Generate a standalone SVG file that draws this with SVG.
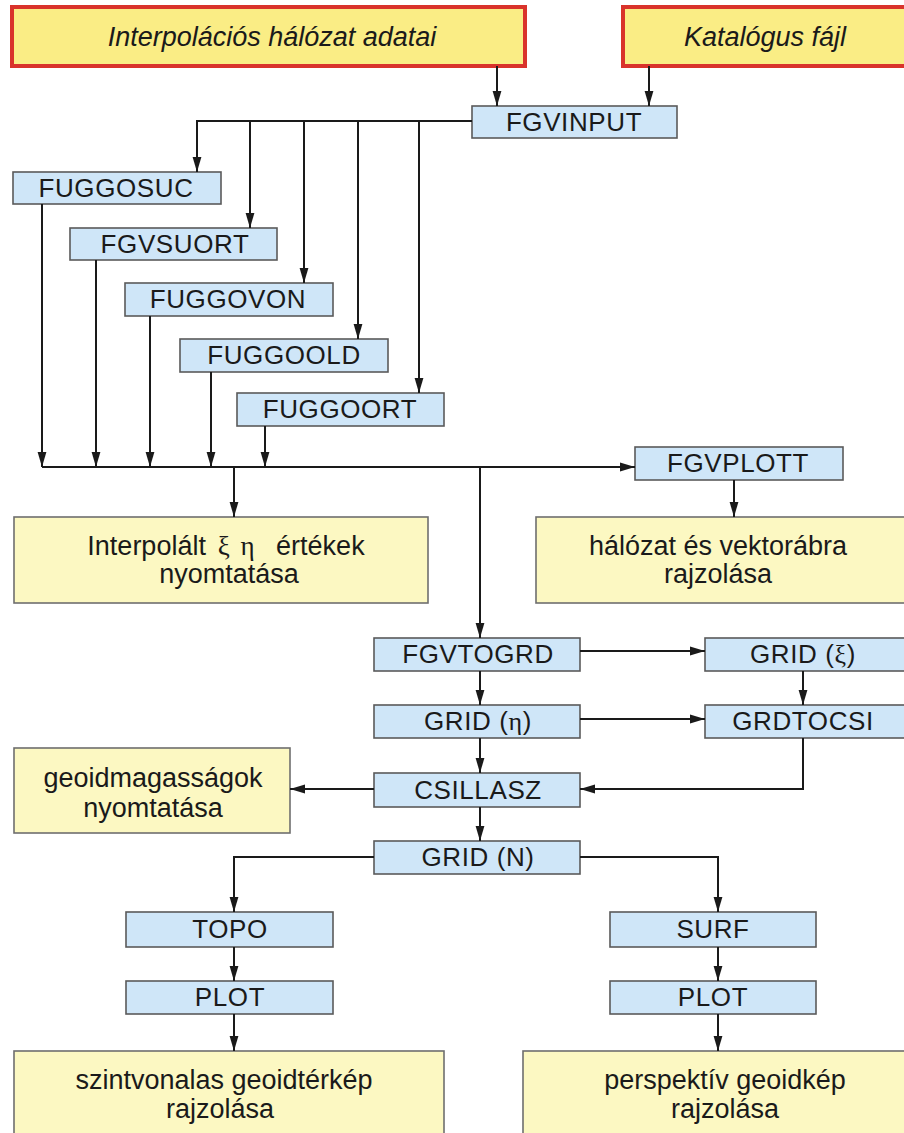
<svg xmlns="http://www.w3.org/2000/svg" width="904" height="1133" viewBox="0 0 904 1133">
<style>
.src{fill:#faed85;stroke:#d9332b;stroke-width:4}
.fn{fill:#cfe6f8;stroke:#5a5a5a;stroke-width:1.6}
.out{fill:#fcf8c2;stroke:#6e6e6e;stroke-width:1.6}
text{font-family:"Liberation Sans",Arial,sans-serif;fill:#1a1a1a;text-anchor:middle}
.it{font-style:italic;font-size:27px}
.lb{font-size:26px;letter-spacing:0.6px}
.tx{font-size:27px}
.gr{font-family:"Liberation Serif","Times New Roman",serif}
.c path{fill:none;stroke:#1a1a1a;stroke-width:2}
</style>
<defs>
<marker id="ah" markerUnits="userSpaceOnUse" markerWidth="16" markerHeight="10" refX="15" refY="5" orient="auto">
<path d="M0,0.6 L15,5 L0,9.4 z" fill="#1a1a1a"/>
</marker>
</defs>
<rect width="904" height="1133" fill="#ffffff"/>
<g id="src-interp"><rect class="src" x="12" y="7" width="513" height="59"/><text class="it" x="272" y="46">Interpolációs hálózat adatai</text></g>
<g id="src-katalog"><rect class="src" x="623" y="7" width="290" height="59"/><text class="it" x="765" y="46">Katalógus fájl</text></g>
<g id="fgvinput"><rect class="fn" x="472" y="106" width="205" height="32"/><text class="lb" x="574" y="131">FGVINPUT</text></g>
<g id="fuggosuc"><rect class="fn" x="13" y="172" width="208" height="32"/><text class="lb" x="116" y="197">FUGGOSUC</text></g>
<g id="fgvsuort"><rect class="fn" x="70" y="228" width="207" height="32"/><text class="lb" x="175" y="253">FGVSUORT</text></g>
<g id="fuggovon"><rect class="fn" x="125" y="283" width="208" height="33"/><text class="lb" x="228" y="308">FUGGOVON</text></g>
<g id="fuggoold"><rect class="fn" x="180" y="339" width="208" height="33"/><text class="lb" x="284" y="364">FUGGOOLD</text></g>
<g id="fuggoort"><rect class="fn" x="237" y="393" width="207" height="33"/><text class="lb" x="340" y="418">FUGGOORT</text></g>
<g id="fgvplott"><rect class="fn" x="635" y="447" width="208" height="33"/><text class="lb" x="738" y="472">FGVPLOTT</text></g>
<g id="out-interp"><rect class="out" x="14" y="517" width="414" height="86"/><text class="tx" x="226" y="555">Interpolált<tspan class="gr" dx="5"> ξ</tspan><tspan class="gr" dx="4"> η</tspan><tspan dx="14"> értékek</tspan></text><text class="tx" x="229" y="583">nyomtatása</text></g>
<g id="out-halozat"><rect class="out" x="536" y="517" width="380" height="86"/><text class="tx" x="718" y="555">hálózat és vektorábra</text><text class="tx" x="718" y="583">rajzolása</text></g>
<g id="fgvtogrd"><rect class="fn" x="374" y="638" width="206" height="33"/><text class="lb" x="478" y="663">FGVTOGRD</text></g>
<g id="grid-xi"><rect class="fn" x="705" y="638" width="210" height="33"/><text class="lb" x="803" y="663">GRID (<tspan class="gr">ξ</tspan>)</text></g>
<g id="grid-eta"><rect class="fn" x="374" y="705" width="206" height="33"/><text class="lb" x="478" y="730">GRID (<tspan class="gr">η</tspan>)</text></g>
<g id="grdtocsi"><rect class="fn" x="705" y="705" width="210" height="33"/><text class="lb" x="803" y="730">GRDTOCSI</text></g>
<g id="out-geoid"><rect class="out" x="14" y="748" width="276" height="85"/><text class="tx" x="153" y="787">geoidmagasságok</text><text class="tx" x="153" y="817">nyomtatása</text></g>
<g id="csillasz"><rect class="fn" x="374" y="773" width="206" height="34"/><text class="lb" x="478" y="799">CSILLASZ</text></g>
<g id="grid-n"><rect class="fn" x="374" y="841" width="206" height="33"/><text class="lb" x="478" y="866">GRID (N)</text></g>
<g id="topo"><rect class="fn" x="126" y="912" width="207" height="35"/><text class="lb" x="230" y="938">TOPO</text></g>
<g id="surf"><rect class="fn" x="610" y="912" width="206" height="35"/><text class="lb" x="713" y="938">SURF</text></g>
<g id="plot-l"><rect class="fn" x="126" y="981" width="207" height="33"/><text class="lb" x="230" y="1006">PLOT</text></g>
<g id="plot-r"><rect class="fn" x="610" y="981" width="206" height="33"/><text class="lb" x="713" y="1006">PLOT</text></g>
<g id="out-szint"><rect class="out" x="14" y="1051" width="430" height="100"/><text class="tx" x="224" y="1089">szintvonalas geoidtérkép</text><text class="tx" x="220" y="1118">rajzolása</text></g>
<g id="out-persp"><rect class="out" x="523" y="1051" width="400" height="100"/><text class="tx" x="725" y="1089">perspektív geoidkép</text><text class="tx" x="725" y="1118">rajzolása</text></g>
<g id="connectors" class="c">
<path d="M497,66 V106" marker-end="url(#ah)"/>
<path d="M649,66 V106" marker-end="url(#ah)"/>
<path d="M472,121 H197 V172" marker-end="url(#ah)"/>
<path d="M250,121 V228" marker-end="url(#ah)"/>
<path d="M304,121 V283" marker-end="url(#ah)"/>
<path d="M358,121 V339" marker-end="url(#ah)"/>
<path d="M419,121 V393" marker-end="url(#ah)"/>
<path d="M42,204 V467" marker-end="url(#ah)"/>
<path d="M96,260 V467" marker-end="url(#ah)"/>
<path d="M150,316 V467" marker-end="url(#ah)"/>
<path d="M211,372 V467" marker-end="url(#ah)"/>
<path d="M265,426 V467" marker-end="url(#ah)"/>
<path d="M42,467 H635" marker-end="url(#ah)"/>
<path d="M234,467 V517" marker-end="url(#ah)"/>
<path d="M480,467 V638" marker-end="url(#ah)"/>
<path d="M734,480 V517" marker-end="url(#ah)"/>
<path d="M580,651 H705" marker-end="url(#ah)"/>
<path d="M803,671 V705" marker-end="url(#ah)"/>
<path d="M480,671 V705" marker-end="url(#ah)"/>
<path d="M580,719 H705" marker-end="url(#ah)"/>
<path d="M480,738 V773" marker-end="url(#ah)"/>
<path d="M803,738 V789 H580" marker-end="url(#ah)"/>
<path d="M374,789 H290" marker-end="url(#ah)"/>
<path d="M480,807 V841" marker-end="url(#ah)"/>
<path d="M374,857 H234 V912" marker-end="url(#ah)"/>
<path d="M580,857 H718 V912" marker-end="url(#ah)"/>
<path d="M234,947 V981" marker-end="url(#ah)"/>
<path d="M718,947 V981" marker-end="url(#ah)"/>
<path d="M234,1014 V1051" marker-end="url(#ah)"/>
<path d="M718,1014 V1051" marker-end="url(#ah)"/>
</g>
</svg>
